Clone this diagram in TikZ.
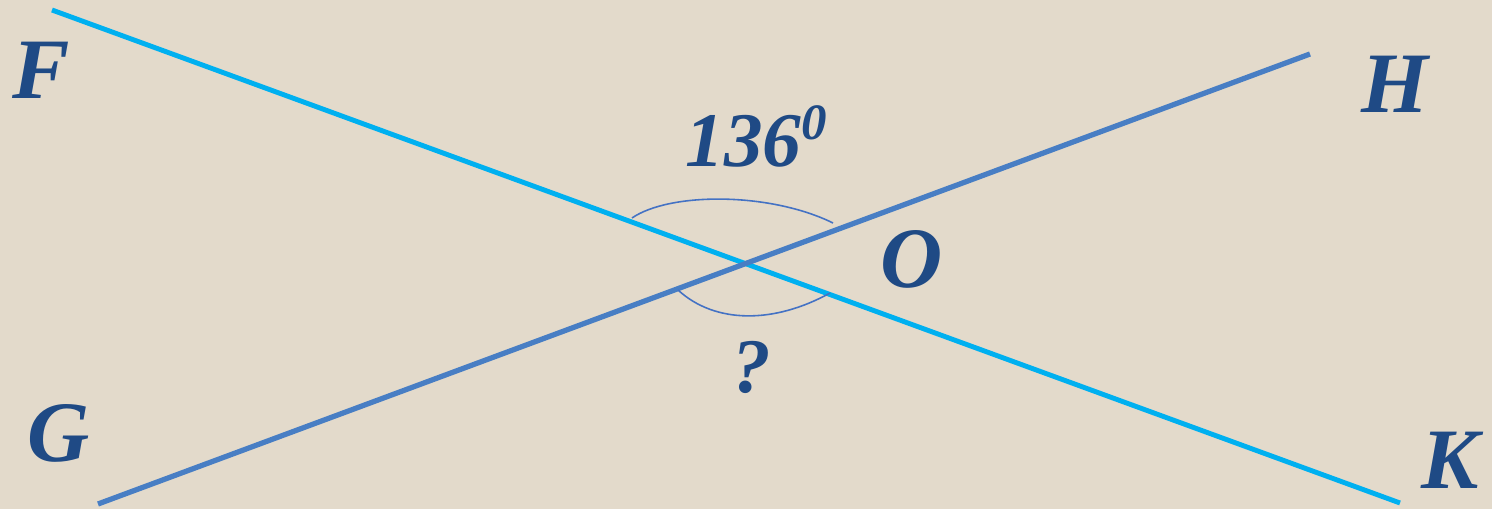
\documentclass[tikz,border=0pt]{standalone}
\usepackage{fontspec}
\setmainfont{Liberation Serif}
\usetikzlibrary{positioning}

\definecolor{paper}{RGB}{227,218,203}
\definecolor{cyanline}{RGB}{0,176,240}
\definecolor{steelline}{RGB}{72,126,196}
\definecolor{arcblue}{RGB}{68,114,196}
\definecolor{labelblue}{RGB}{31,74,133}

\begin{document}
\begin{tikzpicture}[
  x=0.02cm, y=-0.02cm,
  every node/.style={inner sep=0pt, text=labelblue},
  letter/.style={font=\fontsize{49}{50}\selectfont\bfseries\itshape, anchor=base},
  value/.style={font=\fontsize{44}{46}\selectfont\bfseries\itshape, anchor=base},
  lineA/.style={cyanline, line width=2.8pt},
  lineB/.style={steelline, line width=3pt},
  anglemark/.style={arcblue, line width=0.9pt}
]
\fill[paper] (0,0) rectangle (1492,509);
\useasboundingbox (0,0) rectangle (1492,509);

% end points of the two lines
\coordinate (f) at (52,10);
\coordinate (k) at (1400,503);
\coordinate (g) at (98,504);
\coordinate (h) at (1310,54);
\coordinate (o) at (745.5,263.6);

\draw[lineA] (f) -- (k);
\draw[lineB] (g) -- (h);

% angle marks
\coordinate (u1) at (632,218);
\coordinate (u2) at (833,223);
\coordinate (l1) at (678,290);
\coordinate (l2) at (830,293);
\draw[anglemark] (u1) .. controls (670,192) and (770,192) .. (u2);
\draw[anglemark] (l1) .. controls (715,324) and (774,324) .. (l2);

% labels
\node[letter] (lf) at (41,99) {F};
\node[letter] (lh) at (1395,113) {H};
\node[letter] (lg) at (59,462) {G};
\node[letter] (lk) at (1450,489) {K};
\node[letter] (lo) at (912,288) {O};
\node[value, anchor=base west] (angle) at (685,167) {136\raisebox{0.54cm}{\fontsize{29}{30}\selectfont 0}};
\node[value] (ask) at (752,393) {?};
\end{tikzpicture}
\end{document}
